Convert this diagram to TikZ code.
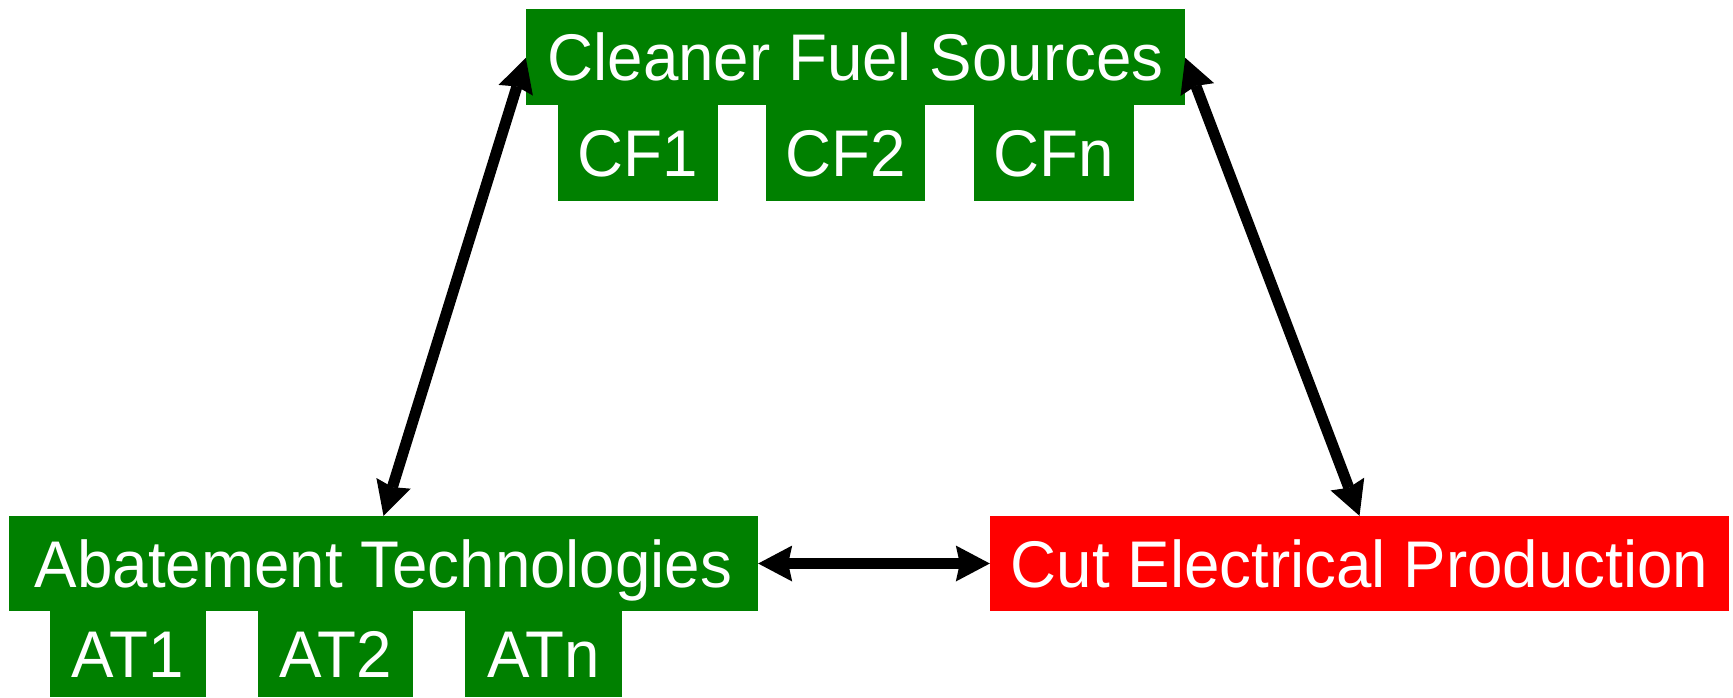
\documentclass[tikz,border=0pt]{standalone}
\usepackage{fontspec}
\setmainfont{Liberation Sans}
\newfontfamily\boxfont[FakeStretch=0.965]{Liberation Sans}
\usetikzlibrary{arrows.meta}
\definecolor{boxgreen}{HTML}{008000}
\definecolor{boxred}{HTML}{FF0000}
\tikzset{
  box/.style={fill=boxgreen, draw=none, inner sep=0pt, text=white,
    font=\boxfont\fontsize{66}{78}\selectfont, text height=47pt, text depth=0pt,
    minimum height=96pt},
  redbox/.style={box, fill=boxred},
  tip/.tip={Stealth[length=34pt,width=36pt,inset=4pt,line width=0pt]},
  arr/.style={line width=11pt, tip-tip}
}
\begin{document}
\begin{tikzpicture}[x=1pt,y=-1pt]
\useasboundingbox (0,0) rectangle (1733,697);
% top group
\node[box, minimum width=659pt] (top) at (855.5,57) {Cleaner Fuel Sources};
\node[box, minimum width=160pt] (cf1) at (638,153) {CF1};
\node[box, minimum width=159pt] (cf2) at (845.5,153) {CF2};
\node[box, minimum width=160pt] (cfn) at (1054,153) {CFn};
% bottom left group
\node[box, minimum width=749pt, minimum height=95pt] (at) at (383.5,563.5) {Abatement Technologies};
\node[box, minimum width=156pt, minimum height=86pt] (at1) at (128,654) {AT1};
\node[box, minimum width=155pt, minimum height=86pt] (at2) at (335.5,654) {AT2};
\node[box, minimum width=157pt, minimum height=86pt] (atn) at (543.5,654) {ATn};
% bottom right
\node[redbox, minimum width=739pt, minimum height=95pt] (cut) at (1359.5,563.5) {Cut Electrical Production};
% connectors
\draw[arr] ([yshift=-49pt]top.north west) -- (at.north);
\draw[arr] ([yshift=-49pt]top.north east) -- (cut.north);
\draw[arr] (at.east) -- (cut.west);
\end{tikzpicture}
\end{document}
